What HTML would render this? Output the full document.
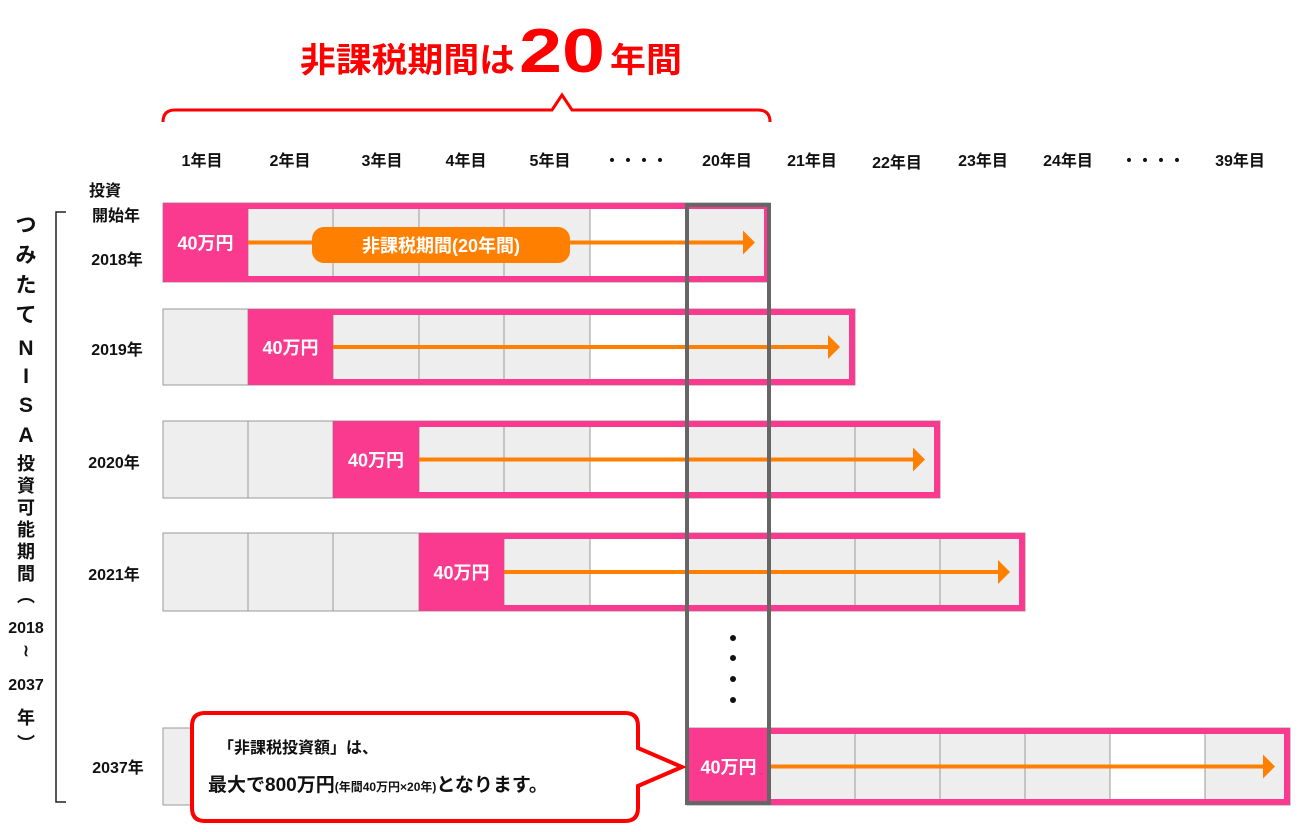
<!DOCTYPE html>
<html><head><meta charset="utf-8"><style>
html,body{margin:0;padding:0;background:#fff;}
svg{display:block;}
text{font-family:"Liberation Sans","Noto Sans CJK JP",sans-serif;font-weight:bold;}
</style></head><body>
<svg width="1300" height="832" viewBox="0 0 1300 832" xmlns="http://www.w3.org/2000/svg">
<!-- title -->
<text x="300" y="72" font-size="34" fill="#ff0000" textLength="215" lengthAdjust="spacingAndGlyphs">非課税期間は</text>
<text x="519" y="72" font-size="62" fill="#ff0000" font-family="Liberation Sans" textLength="86" lengthAdjust="spacingAndGlyphs">20</text>
<text x="610" y="72" font-size="34" fill="#ff0000" textLength="72" lengthAdjust="spacingAndGlyphs">年間</text>
<path d="M163,122 Q163,110 175,110 L552,110 L562,95 L572,110 L758,110 Q770,110 770,122" fill="none" stroke="#ff0000" stroke-width="3"/>
<!-- headers -->
<g font-size="16" fill="#111" text-anchor="middle">
<text x="202" y="166">1年目</text><text x="290" y="166">2年目</text><text x="382" y="166">3年目</text>
<text x="466" y="166">4年目</text><text x="550" y="166">5年目</text><text x="636" y="166">・・・・</text>
<text x="727" y="166">20年目</text><text x="812" y="166">21年目</text><text x="897" y="168">22年目</text>
<text x="983" y="166">23年目</text><text x="1068" y="166">24年目</text><text x="1153" y="166">・・・・</text>
<text x="1240" y="166">39年目</text>
</g>
<!-- left labels -->
<g font-size="16" fill="#111" text-anchor="middle">
<text x="105" y="196">投資</text><text x="116" y="221">開始年</text><text x="117" y="265">2018年</text>
<text x="117" y="355">2019年</text><text x="114" y="468">2020年</text><text x="114" y="580">2021年</text>
<text x="118" y="773">2037年</text>
</g>
<path d="M66,212 L56,212 L56,802 L66,802" fill="none" stroke="#222" stroke-width="1.5"/>
<g font-size="21" fill="#111" text-anchor="middle">
<text x="26" y="232">つ</text><text x="26" y="262">み</text><text x="26" y="292">た</text><text x="26" y="322">て</text>
<text x="26" y="355" font-family="Liberation Sans">N</text><text x="26" y="383" font-family="Liberation Sans">I</text>
<text x="26" y="412" font-family="Liberation Sans">S</text><text x="26" y="442" font-family="Liberation Sans">A</text>
</g>
<g font-size="18" fill="#111" text-anchor="middle">
<text x="26" y="470">投</text><text x="26" y="492">資</text><text x="26" y="514">可</text><text x="26" y="536">能</text>
<text x="26" y="558">期</text><text x="26" y="580">間</text><text x="26" y="602">︵</text>
<text x="26" y="633" font-size="16">2018</text><text x="26" y="656" font-size="16">≀</text>
<text x="26" y="690" font-size="16">2037</text><text x="26" y="724">年</text><text x="26" y="750">︶</text>
</g>

<g stroke="#999" stroke-width="1" fill="#eeeeee">
<!-- row 2018 -->
<rect x="163" y="203" width="85" height="79"/><rect x="248" y="203" width="85" height="79"/><rect x="333" y="203" width="86" height="79"/><rect x="419" y="203" width="85" height="79"/><rect x="504" y="203" width="86" height="79"/><rect x="590" y="203" width="97" height="79" fill="#fff"/><rect x="687" y="203" width="83" height="79"/>
<!-- row 2019 -->
<rect x="163" y="309" width="85" height="76"/><rect x="248" y="309" width="85" height="76"/><rect x="333" y="309" width="86" height="76"/><rect x="419" y="309" width="85" height="76"/><rect x="504" y="309" width="86" height="76"/><rect x="590" y="309" width="97" height="76" fill="#fff"/><rect x="687" y="309" width="83" height="76"/><rect x="770" y="309" width="85" height="76"/>
<!-- row 2020 -->
<rect x="163" y="421" width="85" height="77"/><rect x="248" y="421" width="85" height="77"/><rect x="333" y="421" width="86" height="77"/><rect x="419" y="421" width="85" height="77"/><rect x="504" y="421" width="86" height="77"/><rect x="590" y="421" width="97" height="77" fill="#fff"/><rect x="687" y="421" width="83" height="77"/><rect x="770" y="421" width="85" height="77"/><rect x="855" y="421" width="85" height="77"/>
<!-- row 2021 -->
<rect x="163" y="533" width="85" height="78"/><rect x="248" y="533" width="85" height="78"/><rect x="333" y="533" width="86" height="78"/><rect x="419" y="533" width="85" height="78"/><rect x="504" y="533" width="86" height="78"/><rect x="590" y="533" width="97" height="78" fill="#fff"/><rect x="687" y="533" width="83" height="78"/><rect x="770" y="533" width="85" height="78"/><rect x="855" y="533" width="85" height="78"/><rect x="940" y="533" width="85" height="78"/>
<!-- row 2037 -->
<rect x="163" y="728" width="85" height="77"/><rect x="687" y="728" width="83" height="77"/><rect x="770" y="728" width="85" height="77"/><rect x="855" y="728" width="85" height="77"/><rect x="940" y="728" width="85" height="77"/><rect x="1025" y="728" width="85" height="77"/><rect x="1110" y="728" width="95" height="77" fill="#fff"/><rect x="1205" y="728" width="85" height="77"/>
</g>

<g fill="#fa3a8e">
<rect x="163" y="203" width="85" height="79"/>
<rect x="248" y="309" width="85" height="76"/>
<rect x="333" y="421" width="86" height="77"/>
<rect x="419" y="533" width="85" height="78"/>
<rect x="687" y="728" width="83" height="77"/>
</g>
<g fill="none" stroke="#fa3a8e" stroke-width="6">
<rect x="166" y="206" width="601" height="73"/>
<rect x="251" y="312" width="601" height="70"/>
<rect x="336" y="424" width="601" height="71"/>
<rect x="422" y="536" width="600" height="72"/>
<rect x="690" y="731" width="597" height="71"/>
</g>
<g stroke="#ff7f00" stroke-width="4">
<line x1="248" y1="242.5" x2="747" y2="242.5"/>
<line x1="333" y1="347" x2="832" y2="347"/>
<line x1="419" y1="459.5" x2="917" y2="459.5"/>
<line x1="504" y1="572" x2="1002" y2="572"/>
<line x1="770" y1="766.5" x2="1267" y2="766.5"/>
</g>
<g fill="#ff7f00">
<polygon points="743,230.5 755,242.5 743,254.5"/>
<polygon points="828,335 840,347 828,359"/>
<polygon points="913,447.5 925,459.5 913,471.5"/>
<polygon points="998,560 1010,572 998,584"/>
<polygon points="1263,754.5 1275,766.5 1263,778.5"/>
</g>
<g font-size="18" fill="#fff" text-anchor="middle">
<text x="205.5" y="249.5">40万円</text>
<text x="290.5" y="354">40万円</text>
<text x="376" y="466.5">40万円</text>
<text x="461.5" y="579">40万円</text>
<text x="728.5" y="773.5">40万円</text>
</g>

<!-- dots -->
<g fill="#111"><circle cx="733" cy="638" r="3"/><circle cx="733" cy="658" r="3"/><circle cx="733" cy="679" r="3"/><circle cx="733" cy="700" r="3"/></g>
<!-- pill -->
<rect x="312" y="227" width="258" height="36" rx="12" fill="#ff7f00"/>
<text x="441" y="252" font-size="18" fill="#fff" text-anchor="middle">非課税期間(20年間)</text>
<!-- gray box -->
<rect x="687" y="205" width="82" height="598" fill="none" stroke="#666" stroke-width="4"/>
<!-- callout -->
<path d="M205,713 L625,713 Q638,713 638,726 L638,748 L682,767 L638,786 L638,808 Q638,821 625,821 L205,821 Q192,821 192,808 L192,726 Q192,713 205,713 Z" fill="#fff" stroke="#ff0000" stroke-width="4"/>
<text x="218" y="753" font-size="16" fill="#111">「非課税投資額」は、</text>
<text x="208" y="791" font-size="19" fill="#111">最大で800万円<tspan font-size="12">(年間40万円×20年)</tspan>となります。</text>
</svg>
</body></html>
